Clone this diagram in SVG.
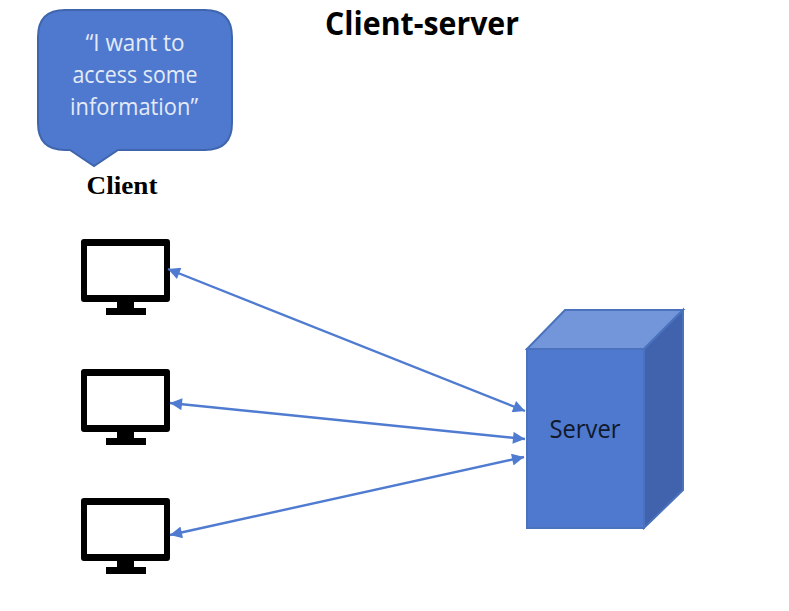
<svg xmlns="http://www.w3.org/2000/svg" width="789" height="611" viewBox="0 0 789 611">
<style>
.b{font-family:"Open Sans","Noto Sans","Liberation Sans",sans-serif}
.w{font-size:23px;fill:#e4eaf6;text-anchor:middle}
.m{fill:#000}
.in{fill:#fff}
.c{stroke:#4f7bd0;stroke-width:2.4;fill:none;marker-start:url(#a);marker-end:url(#a)}
</style>
<defs>
<marker id="a" viewBox="0 0 10 10" refX="10" refY="5" markerWidth="13" markerHeight="12" orient="auto-start-reverse" markerUnits="userSpaceOnUse"><path d="M0 0L10 5L0 10Z" fill="#4f7bd0"/></marker>
<g id="mon"><path class="m" d="M84 0H167Q170 0 170 3V60Q170 63 167 63H134V69H146V76H106V69H117V63H84Q81 63 81 60V3Q81 0 84 0Z"/><rect class="in" x="87" y="7" width="77" height="49"/></g>
</defs>
<rect width="789" height="611" fill="#fff"/>
<g id="title"><text class="b" x="422" y="35" font-size="32" font-weight="700" text-anchor="middle" textLength="194" lengthAdjust="spacingAndGlyphs" fill="#000">Client-server</text></g>
<g id="bubble">
<path d="M65 10H205Q232 10 232 37V123Q232 150 205 150H118L94 166L70 150H65Q38 150 38 123V37Q38 10 65 10Z" fill="#4e79cf" stroke="#3f66ad" stroke-width="2"/>
<text class="b w" x="135" y="51" textLength="99" lengthAdjust="spacingAndGlyphs">“I want to</text>
<text class="b w" x="135" y="83" textLength="125" lengthAdjust="spacingAndGlyphs">access some</text>
<text class="b w" x="134" y="115" textLength="128" lengthAdjust="spacingAndGlyphs">information”</text>
</g>
<g id="client-label"><text x="122" y="194" font-family="'Liberation Serif',serif" font-size="26" font-weight="700" text-anchor="middle" textLength="71" lengthAdjust="spacingAndGlyphs" fill="#000">Client</text></g>
<g id="client-1"><use href="#mon" y="239"/></g>
<g id="client-2"><use href="#mon" y="369"/></g>
<g id="client-3"><use href="#mon" y="498"/></g>
<g id="server">
<path d="M527 349L565 310H683L644 349Z" fill="#7396db" stroke="#4a72bd" stroke-width="2"/>
<path d="M644 349L683 310V490L644 528Z" fill="#4163ad" stroke="#4a72bd" stroke-width="2"/>
<rect x="527" y="349" width="117" height="179" fill="#4e79cf" stroke="#4a72bd" stroke-width="2"/>
<text class="b" x="585" y="438" font-size="25" text-anchor="middle" textLength="71" lengthAdjust="spacingAndGlyphs" fill="#10182a">Server</text>
</g>
<g id="connectors">
<path class="c" d="M168 269L525 411"/>
<path class="c" d="M170 403L525 439"/>
<path class="c" d="M170 535L524 457"/>
</g>
</svg>
